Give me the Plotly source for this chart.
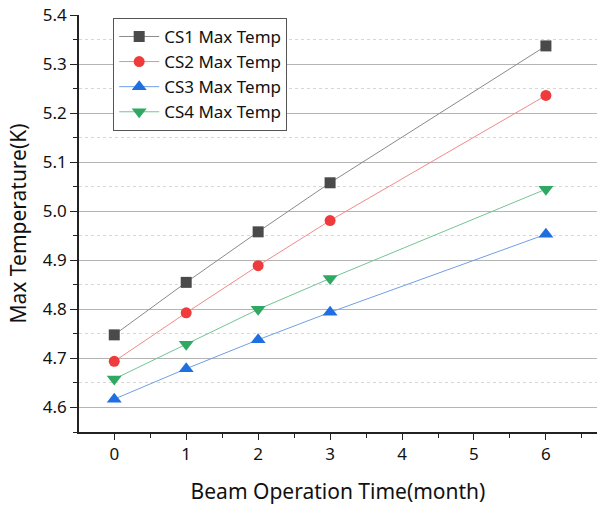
import plotly.graph_objects as go

# Beam operation time (months)
months = [0, 1, 2, 3, 6]

# Maximum temperature (K) for each case
cs1_temp = [4.748, 4.855, 4.958, 5.058, 5.337]
cs2_temp = [4.694, 4.793, 4.889, 4.981, 5.236]
cs3_temp = [4.617, 4.679, 4.738, 4.794, 4.953]
cs4_temp = [4.658, 4.729, 4.800, 4.863, 5.045]

series_names = ["CS1 Max Temp", "CS2 Max Temp", "CS3 Max Temp", "CS4 Max Temp"]
series_values = [cs1_temp, cs2_temp, cs3_temp, cs4_temp]
marker_symbols = ["square", "circle", "triangle-up", "triangle-down"]
marker_colors = ["#4a4a4a", "#ef3b3b", "#1f6fe0", "#2ea862"]
line_colors = ["#8a8a8a", "#f28a8a", "#6f9fe8", "#74c493"]
marker_sizes = [11, 11, 13, 13]

FONT = "Noto Sans"

fig = go.Figure()
for name, vals, sym, mc, lc, ms in zip(series_names, series_values, marker_symbols,
                                         marker_colors, line_colors, marker_sizes):
    fig.add_trace(go.Scatter(
        x=months, y=vals, name=name, mode="lines+markers",
        line=dict(color=lc, width=1),
        marker=dict(symbol=sym, color=mc, size=ms, line=dict(width=0)),
    ))

fig.update_layout(
    width=597, height=505,
    margin=dict(l=79, r=0, t=15, b=73),
    plot_bgcolor="white", paper_bgcolor="white",
    font=dict(family=FONT, color="#111111", size=17),
    showlegend=True,
    legend=dict(
        x=0.066, y=0.993, xanchor="left", yanchor="top",
        bgcolor="white", bordercolor="#555555", borderwidth=1,
        font=dict(family=FONT, size=17, color="#111111"),
        tracegroupgap=0, itemwidth=40,
    ),
)

fig.update_xaxes(
    range=[-0.49, 6.71],
    tickvals=[0, 1, 2, 3, 4, 5, 6],
    ticks="outside", ticklen=6, tickwidth=1, tickcolor="#222222",
    showline=True, linecolor="#222222", linewidth=1.5,
    showgrid=False, zeroline=False,
    tickfont=dict(size=17),
    minor=dict(dtick=0.5, tick0=0.5, ticks="outside", ticklen=4, tickcolor="#222222", showgrid=False),
    title=dict(text="Beam Operation Time(month)", font=dict(size=21), standoff=20),
)

fig.update_yaxes(
    range=[4.55, 5.4],
    tickvals=[4.6, 4.7, 4.8, 4.9, 5.0, 5.1, 5.2, 5.3, 5.4],
    ticktext=["4.6", "4.7", "4.8", "4.9", "5.0", "5.1", "5.2", "5.3", "5.4"],
    ticks="outside", ticklen=7, tickwidth=1, tickcolor="#222222",
    showline=True, linecolor="#222222", linewidth=1.5,
    showgrid=True, gridcolor="#b4b4b4", gridwidth=1, zeroline=False,
    tickfont=dict(size=17),
    minor=dict(dtick=0.1, tick0=4.55, ticks="outside", ticklen=4, tickcolor="#222222",
               showgrid=True, gridcolor="#d6d6d6", griddash="dot", gridwidth=1),
    title=dict(text="Max Temperature(K)", font=dict(size=21), standoff=10),
)

fig.write_html("out.html")
